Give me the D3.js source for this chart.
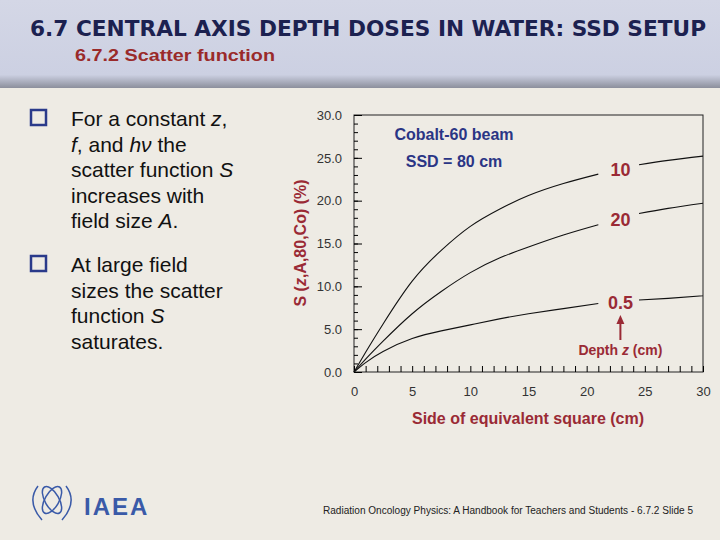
<!DOCTYPE html>
<html><head><meta charset="utf-8">
<script src="https://cdn.jsdelivr.net/npm/d3@7"></script>
<style>body{margin:0;}svg{display:block;font-family:"Liberation Sans",Arial,sans-serif;}</style>
</head><body>
<svg id="c" width="720" height="540"></svg>
<script>
// side of equivalent square (cm) and scatter function S (%) per depth
var sides = [0, 1, 2.5, 5, 7.5, 10, 12.5, 15, 18, 21, 24.5, 27, 30];
var s10 = [0, 2.3, 5.6, 10.6, 14.2, 17.0, 19.0, 20.6, 22.0, 23.1, 24.2, 24.7, 25.2];
var s20 = [0, 1.5, 3.6, 6.8, 9.4, 11.6, 13.3, 14.6, 16.0, 17.2, 18.5, 19.1, 19.7];
var s05 = [0, 1.1, 2.4, 3.9, 4.8, 5.5, 6.2, 6.8, 7.4, 8.0, 8.4, 8.6, 8.9];
var depthLabels = ["10", "20", "0.5"];
var xTicks = [0, 5, 10, 15, 20, 25, 30];
var yTicks = [0, 5, 10, 15, 20, 25, 30];

var svg = d3.select("#c");
svg.append("rect").attr("width", 720).attr("height", 540).attr("fill", "#eeebe4");
var hg = svg.append("defs").append("linearGradient").attr("id", "hg").attr("x1", 0).attr("x2", 0).attr("y1", 0).attr("y2", 1);
hg.append("stop").attr("offset", "0").attr("stop-color", "#d4d7e6");
hg.append("stop").attr("offset", "0.85").attr("stop-color", "#ccd0e2");
hg.append("stop").attr("offset", "1").attr("stop-color", "#8c8f9c");
svg.append("rect").attr("width", 720).attr("height", 88).attr("fill", "url(#hg)");

svg.append("text").attr("x", 30).attr("y", 36).attr("fill", "#1c2150").attr("font-size", 22).attr("font-weight", "bold")
  .attr("font-family", "'Liberation Sans Narrow','DejaVu Sans Condensed',sans-serif")
  .attr("textLength", 676).attr("lengthAdjust", "spacingAndGlyphs").text("6.7  CENTRAL AXIS DEPTH DOSES IN WATER: SSD SETUP");
svg.append("text").attr("x", 75).attr("y", 61).attr("fill", "#9a2a2a").attr("font-size", 17).attr("font-weight", "bold")
  .attr("textLength", 200).attr("lengthAdjust", "spacingAndGlyphs").text("6.7.2 Scatter function");

// bullets
function bullet(y, lines) {
  svg.append("rect").attr("x", 31).attr("y", y - 16).attr("width", 15).attr("height", 15)
    .attr("fill", "none").attr("stroke", "#2a3a8a").attr("stroke-width", 2.5);
  lines.forEach(function (l, i) {
    var t = svg.append("text").attr("x", 71).attr("y", y + i * 25.5).attr("font-size", 21).attr("fill", "#111");
    l.forEach(function (p) { t.append("tspan").attr("font-style", p[1] ? "italic" : null).text(p[0]); });
  });
}
bullet(126, [[["For a constant ", 0], ["z", 1], [",", 0]], [["f", 1], [", and ", 0], ["hν", 1], [" the", 0]],
  [["scatter function ", 0], ["S", 1]], [["increases with", 0]], [["field size ", 0], ["A", 1], [".", 0]]]);
bullet(272, [[["At large field", 0]], [["sizes the scatter", 0]], [["function ", 0], ["S", 1]], [["saturates.", 0]]]);

// chart
var x = d3.scaleLinear().domain([0, 30]).range([354, 703]);
var y = d3.scaleLinear().domain([0, 30]).range([372, 115]);
var g = svg.append("g");
g.append("rect").attr("x", 354).attr("y", 115).attr("width", 349).attr("height", 257).attr("fill", "none").attr("stroke", "#222").attr("stroke-width", 1);
g.append("g").attr("transform", "translate(0,372)")
  .call(d3.axisBottom(x).tickValues(d3.range(0, 31, 1)).tickSize(-6).tickFormat(""))
  .call(function (a) { a.select(".domain").remove(); });
g.append("g").attr("transform", "translate(354,0)")
  .call(d3.axisLeft(y).tickValues(d3.range(0, 31, 1)).tickSize(-4).tickFormat(""))
  .call(function (a) { a.select(".domain").remove(); });
g.append("g").attr("transform", "translate(354,0)")
  .call(d3.axisLeft(y).tickValues(yTicks).tickSize(-8).tickPadding(12).tickFormat(d3.format(".1f")))
  .call(function (a) { a.select(".domain").remove(); a.selectAll("text").attr("font-size", 13).attr("fill", "#333"); });
g.append("g").attr("transform", "translate(0,372)")
  .call(d3.axisBottom(x).tickValues(xTicks).tickSize(0).tickPadding(15))
  .call(function (a) { a.select(".domain").remove(); a.selectAll("text").attr("font-size", 13).attr("fill", "#333"); });

var line = d3.line().x(function (d) { return x(d[0]); }).y(function (d) { return y(d[1]); }).curve(d3.curveNatural);
[s10, s20, s05].forEach(function (s, k) {
  var pts = sides.map(function (v, i) { return [v, s[i]]; });
  g.append("path").attr("d", line(pts.filter(function (p) { return p[0] <= 21; })))
    .attr("fill", "none").attr("stroke", "#111").attr("stroke-width", 1.1);
  g.append("path").attr("d", line(pts.filter(function (p) { return p[0] >= 24.5; })))
    .attr("fill", "none").attr("stroke", "#111").attr("stroke-width", 1.1);
  var ly = (s[9] + s[10]) / 2;
  g.append("text").attr("x", x(22.9)).attr("y", y(ly) + 7).attr("text-anchor", "middle")
    .attr("font-size", 18).attr("font-weight", "bold").attr("fill", "#9a2a35").text(depthLabels[k]);
});
g.append("line").attr("x1", x(22.9)).attr("x2", x(22.9)).attr("y1", 340).attr("y2", 320).attr("stroke", "#9a2a35").attr("stroke-width", 2);
g.append("path").attr("d", "M" + (x(22.9) - 4) + ",324L" + x(22.9) + ",315L" + (x(22.9) + 4) + ",324Z").attr("fill", "#9a2a35");
var dt = g.append("text").attr("x", x(22.9)).attr("y", 355).attr("text-anchor", "middle").attr("font-size", 14).attr("font-weight", "bold").attr("fill", "#9a2a35");
dt.append("tspan").text("Depth ");
dt.append("tspan").attr("font-style", "italic").text("z");
dt.append("tspan").text(" (cm)");

g.append("text").attr("x", 454).attr("y", 140).attr("text-anchor", "middle").attr("font-size", 16).attr("font-weight", "bold").attr("fill", "#2a3585").text("Cobalt-60 beam");
g.append("text").attr("x", 454).attr("y", 167).attr("text-anchor", "middle").attr("font-size", 16).attr("font-weight", "bold").attr("fill", "#2a3585").text("SSD = 80 cm");
g.append("text").attr("x", 528).attr("y", 424).attr("text-anchor", "middle").attr("font-size", 16).attr("font-weight", "bold").attr("fill", "#9a2a35").text("Side of equivalent square (cm)");
var yl = g.append("text").attr("transform", "translate(306,243) rotate(-90)").attr("text-anchor", "middle").attr("font-size", 16).attr("font-weight", "bold").attr("fill", "#9a2a35");
yl.append("tspan").text("S (");
yl.append("tspan").attr("font-style", "italic").text("z");
yl.append("tspan").text(",A,80,Co)  (%)");

// footer
var lg = svg.append("g").attr("transform", "translate(52,500)").attr("stroke", "#3a5aa8").attr("fill", "none").attr("stroke-width", 1.5);
lg.append("ellipse").attr("rx", 7).attr("ry", 15).attr("transform", "rotate(-30)");
lg.append("ellipse").attr("rx", 7).attr("ry", 15).attr("transform", "rotate(30)");
lg.append("path").attr("d", "M-14,-14 Q-26,2 -10,20 M14,-14 Q26,2 10,20");
svg.append("text").attr("x", 84).attr("y", 515).attr("font-size", 24).attr("font-weight", "bold").attr("fill", "#3a5aa8").attr("letter-spacing", 2).text("IAEA");
svg.append("text").attr("x", 323).attr("y", 514).attr("font-size", 10).attr("fill", "#222")
  .attr("textLength", 370).attr("lengthAdjust", "spacingAndGlyphs").text("Radiation Oncology Physics: A Handbook for Teachers and Students - 6.7.2 Slide 5");
</script>
</body></html>
